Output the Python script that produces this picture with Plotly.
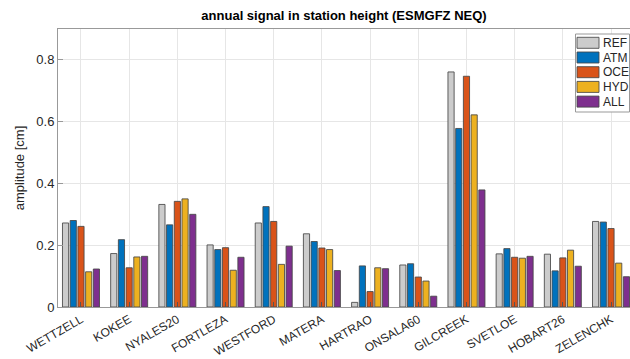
import plotly.graph_objects as go

stations = ["WETTZELL", "KOKEE", "NYALES20", "FORTLEZA", "WESTFORD", "MATERA",
            "HARTRAO", "ONSALA60", "GILCREEK", "SVETLOE", "HOBART26", "ZELENCHK"]
ref = [0.272, 0.173, 0.332, 0.201, 0.272, 0.237, 0.015, 0.136, 0.761, 0.172, 0.171, 0.277]
atm = [0.280, 0.218, 0.266, 0.186, 0.325, 0.212, 0.133, 0.140, 0.578, 0.189, 0.117, 0.275]
oce = [0.261, 0.127, 0.342, 0.192, 0.277, 0.191, 0.050, 0.097, 0.747, 0.161, 0.159, 0.254]
hyd = [0.114, 0.162, 0.350, 0.119, 0.138, 0.186, 0.127, 0.084, 0.622, 0.158, 0.184, 0.142]
all_ = [0.123, 0.164, 0.300, 0.161, 0.197, 0.118, 0.124, 0.035, 0.379, 0.164, 0.132, 0.098]

names = ["REF", "ATM", "OCE", "HYD", "ALL"]
values = [ref, atm, oce, hyd, all_]
colors = ["#cccccc", "#0072BD", "#D95319", "#EDB120", "#7E2F8E"]
edge = "rgba(70,70,70,0.85)"

W, H = 630, 359
ML, MR, MT, MB = 58, 0, 29, 52
PW, PH = W - ML - MR, H - MT - MB


def px(x):
    return (x - ML) / PW


def py(y):
    return (H - MB - y) / PH


fig = go.Figure()
for name, vals, col in zip(names, values, colors):
    fig.add_trace(go.Bar(x=stations, y=vals, name=name, marker_color=col,
                         marker_line=dict(color=edge, width=1)))

# custom compact legend (MATLAB style)
shapes = [dict(type="rect", xref="paper", yref="paper",
               x0=px(575.5), x1=px(629.5), y0=py(112), y1=py(34),
               fillcolor="white", line=dict(color="#999999", width=1), layer="above")]
annotations = []
for i, (name, col) in enumerate(zip(names, colors)):
    cy = 42.8 + i * 14.7
    shapes.append(dict(type="rect", xref="paper", yref="paper",
                       x0=px(577), x1=px(599), y0=py(cy + 5.5), y1=py(cy - 5.5),
                       fillcolor=col, line=dict(color=edge, width=1), layer="above"))
    annotations.append(dict(x=px(600.5), y=py(cy), xref="paper", yref="paper",
                            text=name, showarrow=False, xanchor="left", yanchor="middle",
                            font=dict(size=12, color="#262626")))

fig.update_layout(
    width=W, height=H,
    margin=dict(l=ML, r=MR, t=MT, b=MB),
    paper_bgcolor="white", plot_bgcolor="white",
    barmode="group", bargap=0.2, bargroupgap=0.2,
    font=dict(family="Liberation Sans, Arial, sans-serif", size=12, color="#262626"),
    title=dict(text="<b>annual signal in station height (ESMGFZ NEQ)</b>",
               x=0.5, xref="paper", y=1, yref="container", yanchor="top", pad=dict(t=11),
               font=dict(size=13, color="black")),
    showlegend=False,
    shapes=shapes,
    annotations=annotations,
)
fig.update_xaxes(range=[-0.477, 11.394], showline=True, linecolor="#999999", linewidth=1,
                 mirror=True, showgrid=True, gridcolor="#e6e6e6", ticks="inside",
                 ticklen=5, tickcolor="#555555", tickangle=-30, automargin=False,
                 tickfont=dict(size=12, color="#262626"))
fig.update_yaxes(range=[0, 0.9], tickvals=[0, 0.2, 0.4, 0.6, 0.8],
                 ticktext=["0", "0.2", "0.4", "0.6", "0.8"],
                 showline=True, linecolor="#999999", linewidth=1, mirror=False,
                 showgrid=True, gridcolor="#e6e6e6", zeroline=False, automargin=False,
                 ticks="inside", ticklen=5, tickcolor="#999999",
                 title=dict(text="amplitude [cm]", standoff=8, font=dict(size=13)),
                 tickfont=dict(size=13, color="#262626"))

fig.write_html("out.html")
